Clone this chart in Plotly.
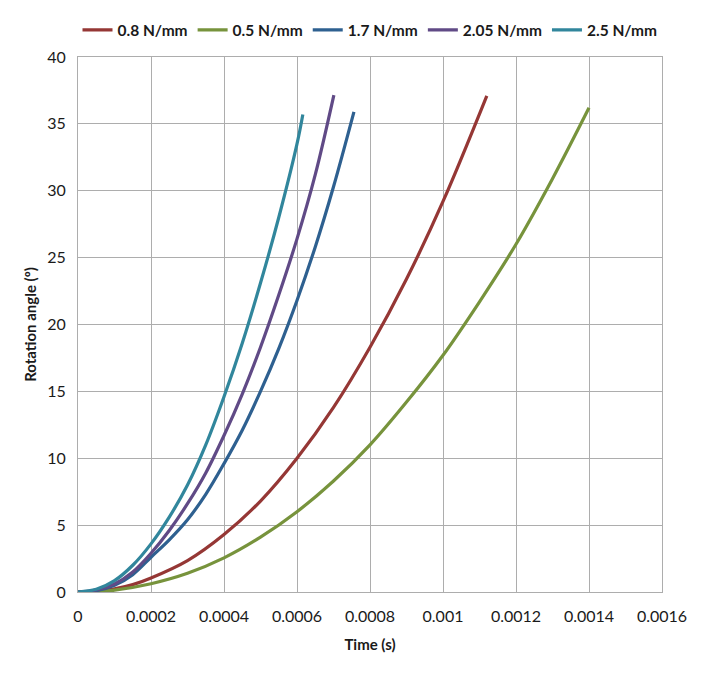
import plotly.graph_objects as go

# ---- data ----
names = ["0.8 N/mm", "0.5 N/mm", "1.7 N/mm", "2.05 N/mm", "2.5 N/mm"]
colors = ["#953735", "#77933C", "#2E6090", "#604A86", "#31869C"]

t_red = [0, 0.00005, 0.0001, 0.00015, 0.0002, 0.0003, 0.0004, 0.0005, 0.0006, 0.0007, 0.0008, 0.0009, 0.001, 0.00112]
y_red = [0, 0.05, 0.23, 0.55, 1.05, 2.35, 4.3, 6.8, 10.0, 13.8, 18.3, 23.4, 29.2, 37.1]

t_green = [0, 0.00005, 0.0001, 0.0002, 0.0003, 0.0004, 0.0005, 0.0006, 0.0007, 0.0008, 0.0009, 0.001, 0.0011, 0.0012, 0.0013, 0.0014]
y_green = [0, 0.03, 0.14, 0.62, 1.4, 2.55, 4.1, 6.0, 8.3, 11.0, 14.2, 17.7, 21.7, 26.0, 30.9, 36.2]

t_blue = [0, 0.00005, 0.0001, 0.00015, 0.0002, 0.00025, 0.0003, 0.00035, 0.0004, 0.00045, 0.0005, 0.00055, 0.0006, 0.00065, 0.0007, 0.000756]
y_blue = [0, 0.1, 0.5, 1.3, 2.6, 3.9, 5.4, 7.3, 9.6, 12.1, 15.0, 18.2, 21.8, 25.8, 30.3, 35.9]

t_purple = [0, 0.00005, 0.0001, 0.00015, 0.0002, 0.00025, 0.0003, 0.00035, 0.0004, 0.00045, 0.0005, 0.00055, 0.0006, 0.00065, 0.000701]
y_purple = [0, 0.15, 0.6, 1.5, 2.9, 4.6, 6.6, 8.9, 11.7, 14.8, 18.3, 22.2, 26.4, 31.2, 37.15]

t_teal = [0, 0.00005, 0.0001, 0.00015, 0.0002, 0.00025, 0.0003, 0.00035, 0.0004, 0.00045, 0.0005, 0.00055, 0.0006, 0.000616]
y_teal = [0, 0.2, 0.85, 2.0, 3.6, 5.6, 8.0, 11.0, 14.6, 18.6, 23.1, 28.0, 33.5, 35.7]

x_ticks = [0, 0.0002, 0.0004, 0.0006, 0.0008, 0.001, 0.0012, 0.0014, 0.0016]
x_tick_labels = ["0", "0.0002", "0.0004", "0.0006", "0.0008", "0.001", "0.0012", "0.0014", "0.0016"]
y_ticks = [0, 5, 10, 15, 20, 25, 30, 35, 40]

series = [(t_red, y_red), (t_green, y_green), (t_blue, y_blue), (t_purple, y_purple), (t_teal, y_teal)]

fig = go.Figure()
for (tx, ty), nm, col in zip(series, names, colors):
    fig.add_trace(go.Scatter(x=tx, y=ty, mode="lines", name=nm,
                             line=dict(color=col, width=3.2, shape="spline", smoothing=1.0)))

grid = "#ADADAD"
font_family = "Lato, Carlito, Arial, sans-serif"
fig.update_layout(
    width=703, height=678,
    margin=dict(l=78, r=41, t=57, b=86),
    paper_bgcolor="white", plot_bgcolor="white",
    font=dict(family=font_family, color="#1a1a1a", size=16),
    showlegend=True,
    legend=dict(orientation="h", x=0.5, xanchor="center", y=1.05, yanchor="middle",
                font=dict(size=15.5, family=font_family, color="#1a1a1a", weight="bold"),
                itemwidth=30, tracegroupgap=0, bgcolor="rgba(0,0,0,0)"),
    xaxis=dict(range=[0, 0.0016], tickmode="array", tickvals=x_ticks, ticktext=x_tick_labels,
               showgrid=True, gridcolor=grid, gridwidth=1, zeroline=False,
               showline=True, linecolor=grid, linewidth=1, mirror=True,
               ticks="", ticklen=0, ticklabelstandoff=10,
               tickfont=dict(size=16),
               title=dict(text="<b>Time (s)</b>", font=dict(size=15), standoff=15)),
    yaxis=dict(range=[0, 40], tickmode="array", tickvals=y_ticks,
               showgrid=True, gridcolor=grid, gridwidth=1, zeroline=False,
               showline=True, linecolor=grid, linewidth=1, mirror=True,
               ticks="", ticklen=0, ticklabelstandoff=8,
               tickfont=dict(size=16),
               title=dict(text="<b>Rotation angle (º)</b>", font=dict(size=15), standoff=6)),
)

fig.write_html("out.html")
